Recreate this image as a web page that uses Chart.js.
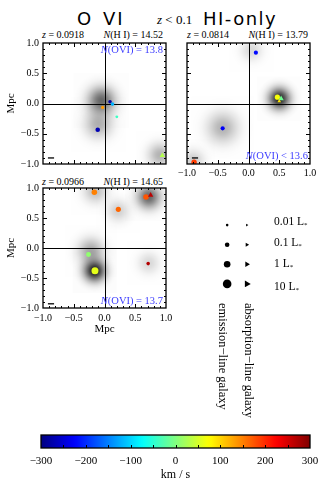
<!DOCTYPE html>
<html>
<head>
<meta charset="utf-8">
<title>O VI z &lt; 0.1 HI-only</title>
<script src="https://cdn.jsdelivr.net/npm/chart.js@4.4.1/dist/chart.umd.min.js"></script>
<style>
  body { margin: 0; width: 321px; height: 480px; position: relative; background: #fff; overflow: hidden;
         font-family: "Liberation Serif", "DejaVu Serif", serif; color: #000; }
  canvas { position: absolute; }
  .txt { position: absolute; white-space: nowrap; line-height: 1; }
  .big { font-family: "DejaVu Sans", sans-serif; font-size: 18px; }
  .sub { font-size: 10px; }
  .blue { color: #3c3cff; font-size: 10.5px; }
  .leg { font-size: 11.5px; }
  .leg sub { font-size: 7px; vertical-align: -2px; }
  .vert { writing-mode: vertical-rl; font-size: 12.5px; line-height: 13px; }
</style>
</head>
<body>
<div class="txt big" style="left:77px;top:10px;letter-spacing:2px;word-spacing:2px">O VI</div>
<div class="txt" style="left:157px;top:13px;font-size:13px"><i>z</i> &lt; 0.1</div>
<div class="txt big" style="left:203px;top:10px;letter-spacing:1.5px">HI-only</div>

<div class="txt sub" style="left:42px;top:30px"><i>z</i> = 0.0918</div>
<div class="txt sub" style="right:158px;top:30px"><i>N</i>(H I) = 14.52</div>
<div class="txt sub" style="left:187px;top:30px"><i>z</i> = 0.0814</div>
<div class="txt sub" style="right:13px;top:30px"><i>N</i>(H I) = 13.79</div>
<div class="txt sub" style="left:42px;top:177px"><i>z</i> = 0.0966</div>
<div class="txt sub" style="right:158px;top:177px"><i>N</i>(H I) = 14.65</div>

<canvas id="p1" width="176" height="142" style="left:0;top:30px"></canvas>
<canvas id="p2" width="146" height="150" style="left:174px;top:30px"></canvas>
<canvas id="p3" width="176" height="164" style="left:0;top:176px"></canvas>
<canvas id="lg" width="48" height="87" style="left:213px;top:211px"></canvas>
<canvas id="cb" width="296" height="64" style="left:24px;top:420px"></canvas>

<div class="txt blue" style="right:158px;top:45px"><i>N</i>(OVI) = 13.8</div>
<div class="txt blue" style="right:13px;top:151px"><i>N</i>(OVI) &lt; 13.6</div>
<div class="txt blue" style="right:158px;top:296px"><i>N</i>(OVI) = 13.7</div>

<div class="txt leg" style="left:274px;top:216px">0.01 L<sub>*</sub></div>
<div class="txt leg" style="left:274px;top:237px">0.1 L<sub>*</sub></div>
<div class="txt leg" style="left:274px;top:258px">1 L<sub>*</sub></div>
<div class="txt leg" style="left:274px;top:281px">10 L<sub>*</sub></div>
<div class="txt vert" style="left:216px;top:303px">emission−line galaxy</div>
<div class="txt vert" style="left:242px;top:303px">absorption−line galaxy</div>

<script>
// velocity colour scale, km/s
const velMin = -300, velMax = 300;
const cbTicks = [-300, -200, -100, 0, 100, 200, 300];
const mpcTicks = [-1, -0.5, 0, 0.5, 1];

// legend luminosities (L*)
const legendLum = [0.01, 0.1, 1, 10];

// short black bar in the lower left corner
const barX = [-0.92, -0.82];

// panel 1: z = 0.0918
const p1X = [0.09, 0.13, -0.03, 0.2, -0.11, 0.94];
const p1Y = [0.03, -0.01, -0.065, -0.22, -0.435, -0.86];
const p1Vel = [-280, -120, 135, -40, -270, 30];
const p1Lum = [0.03, 0.03, 0.02, 0.013, 0.1, 1];
const p1Kind = ['em', 'em', 'em', 'em', 'em', 'abs'];
const p1BlobX = [-0.05, -0.1, 0.9];
const p1BlobY = [0.05, -0.35, -0.85];
const p1BlobDepth = [0.6, 0.3, 0.3];
const p1BlobWidth = [0.15, 0.15, 0.13];

// panel 2: z = 0.0814
const p2X = [0.12, 0.47, 0.53, 0.5, -0.42, -0.885];
const p2Y = [0.84, 0.105, 0.08, 0.04, -0.41, -0.97];
const p2Vel = [-220, 70, -10, 90, -230, 190];
const p2Lum = [0.06, 0.2, 1, 0.06, 0.06, 0.25];
const p2Kind = ['em', 'em', 'abs', 'abs', 'em', 'em'];
const p2BlobX = [0.5, -0.42, 0.05, -0.9];
const p2BlobY = [0.08, -0.4, 0.88, -0.95];
const p2BlobDepth = [0.85, 0.3, 0.15, 0.2];
const p2BlobWidth = [0.12, 0.17, 0.12, 0.12];

// panel 3: z = 0.0966
const p3X = [-0.165, 0.675, 0.75, 0.225, -0.26, -0.155, 0.71];
const p3Y = [0.93, 0.85, 0.88, 0.645, -0.11, -0.38, -0.26];
const p3Vel = [150, 175, 265, 165, 10, 60, 270];
const p3Lum = [0.3, 0.3, 1, 0.2, 0.15, 1.6, 0.03];
const p3Kind = ['em', 'em', 'abs', 'em', 'em', 'em', 'em'];
const p3BlobX = [-0.16, -0.22, 0.72, -0.15, 0.22, 0.72];
const p3BlobY = [-0.38, -0.05, 0.85, 0.95, 0.62, -0.25];
const p3BlobDepth = [0.9, 0.35, 0.6, 0.25, 0.18, 0.15];
const p3BlobWidth = [0.12, 0.14, 0.13, 0.13, 0.12, 0.12];

const serif = '"Liberation Serif", "DejaVu Serif", serif';

function jet(t) {
    const c = v => Math.round(255 * Math.min(1, Math.max(0, v)));
    return 'rgb(' + c(1.5 - Math.abs(4 * t - 3)) + ',' + c(1.5 - Math.abs(4 * t - 2)) + ',' + c(1.5 - Math.abs(4 * t - 1)) + ')';
}
function velColor(v) { return jet((v - velMin) / (velMax - velMin)); }
function dotR(lum) { return Math.max(1.1, 3.3 + Math.log10(lum)); }
function triR(lum) { return Math.max(1.4, 3.1 + 0.8 * Math.log10(lum)); }
function fmtMpc(v) { return (v < 0 ? '\u2212' : '') + Math.abs(v).toFixed(1); }
function fixAxis(size) {
    return s => {
        if (s.isHorizontal()) s.height = size; else s.width = size;
        s.paddingLeft = s.paddingRight = s.paddingTop = s.paddingBottom = 0;
    };
}
function blobList(xs, ys, depth, width) {
    return xs.map((x, i) => ({ x: x, y: ys[i], d: depth[i], w: width[i] }));
}

// grey halos, cross through the sight line, inner ticks and frame
const panelDecor = {
    id: 'panelDecor',
    beforeDatasetsDraw(chart, args, opts) {
        const { ctx, chartArea: a } = chart;
        const xs = chart.scales.x, ys = chart.scales.y;
        const unit = xs.getPixelForValue(1) - xs.getPixelForValue(0);
        ctx.save();
        ctx.beginPath();
        ctx.rect(a.left, a.top, a.width, a.height);
        ctx.clip();
        opts.blobs.forEach(b => {
            const cx = xs.getPixelForValue(b.x), cy = ys.getPixelForValue(b.y);
            const R = 3 * b.w * unit;
            const g = ctx.createRadialGradient(cx, cy, 0, cx, cy, R);
            for (let i = 0; i <= 12; i++) {
                const f = i / 12;
                g.addColorStop(f, 'rgba(0,0,0,' + (b.d * Math.exp(-4.5 * f * f)).toFixed(3) + ')');
            }
            ctx.fillStyle = g;
            ctx.fillRect(cx - R, cy - R, 2 * R, 2 * R);
        });
        ctx.strokeStyle = '#000';
        ctx.lineWidth = 1;
        const x0 = Math.round(xs.getPixelForValue(0)) + 0.5;
        const y0 = Math.round(ys.getPixelForValue(0)) + 0.5;
        ctx.beginPath();
        ctx.moveTo(x0, a.top); ctx.lineTo(x0, a.bottom);
        ctx.moveTo(a.left, y0); ctx.lineTo(a.right, y0);
        ctx.stroke();
        ctx.restore();
    },
    afterDatasetsDraw(chart) {
        const { ctx, chartArea: a } = chart;
        const xs = chart.scales.x, ys = chart.scales.y;
        ctx.save();
        ctx.strokeStyle = '#000';
        ctx.lineWidth = 1;
        ctx.beginPath();
        for (let i = -9; i <= 9; i++) {
            const len = i % 5 === 0 ? 4 : 2;
            const px = Math.round(xs.getPixelForValue(i / 10)) + 0.5;
            const py = Math.round(ys.getPixelForValue(i / 10)) + 0.5;
            ctx.moveTo(px, a.top); ctx.lineTo(px, a.top + len);
            ctx.moveTo(px, a.bottom); ctx.lineTo(px, a.bottom - len);
            ctx.moveTo(a.left, py); ctx.lineTo(a.left + len, py);
            ctx.moveTo(a.right, py); ctx.lineTo(a.right - len, py);
        }
        ctx.stroke();
        ctx.lineWidth = 1.3;
        ctx.strokeRect(a.left, a.top, a.width, a.height);
        ctx.restore();
    }
};

const panels = [
    { id: 'p1', x: p1X, y: p1Y, vel: p1Vel, lum: p1Lum, kind: p1Kind, barY: -0.9,
      blobs: blobList(p1BlobX, p1BlobY, p1BlobDepth, p1BlobWidth),
      pad: { top: 13, right: 10, bottom: 8, left: 0 }, showX: false, xTitle: false, showY: true, xH: 0 },
    { id: 'p2', x: p2X, y: p2Y, vel: p2Vel, lum: p2Lum, kind: p2Kind, barY: -0.9,
      blobs: blobList(p2BlobX, p2BlobY, p2BlobDepth, p2BlobWidth),
      pad: { top: 13, right: 10, bottom: 0, left: 13 }, showX: true, xTitle: false, showY: false, xH: 16, xPad: 3 },
    { id: 'p3', x: p3X, y: p3Y, vel: p3Vel, lum: p3Lum, kind: p3Kind, barY: -0.93,
      blobs: blobList(p3BlobX, p3BlobY, p3BlobDepth, p3BlobWidth),
      pad: { top: 12, right: 10, bottom: 0, left: 0 }, showX: true, xTitle: true, showY: true, xH: 32, xPad: 4 }
];

panels.forEach(p => {
    new Chart(document.getElementById(p.id), {
        type: 'scatter',
        data: {
            datasets: [
                {
                    data: p.x.map((v, i) => ({ x: v, y: p.y[i] })),
                    pointStyle: p.kind.map(k => k === 'abs' ? 'triangle' : 'circle'),
                    pointRadius: p.kind.map((k, i) => k === 'abs' ? triR(p.lum[i]) : dotR(p.lum[i])),
                    pointBackgroundColor: p.vel.map(velColor),
                    pointBorderWidth: 0
                },
                {
                    type: 'line',
                    data: barX.map(v => ({ x: v, y: p.barY })),
                    borderColor: '#000',
                    borderWidth: 1.3,
                    pointRadius: 0
                }
            ]
        },
        options: {
            responsive: false,
            animation: false,
            devicePixelRatio: 1,
            layout: { padding: p.pad },
            plugins: {
                legend: { display: false },
                tooltip: { enabled: false },
                panelDecor: { blobs: p.blobs }
            },
            scales: {
                x: {
                    type: 'linear', min: -1, max: 1, display: p.showX,
                    grid: { display: false, drawTicks: false }, border: { display: false },
                    afterBuildTicks: s => { s.ticks = mpcTicks.map(v => ({ value: v })); },
                    afterFit: p.showX ? fixAxis(p.xH) : undefined,
                    ticks: { padding: p.xPad || 4, color: '#000', maxRotation: 0, autoSkip: false,
                             font: { family: serif, size: 10 }, callback: fmtMpc },
                    title: { display: p.xTitle, text: 'Mpc', color: '#000',
                             font: { family: serif, size: 11 }, padding: { top: 0, bottom: 4 } }
                },
                y: {
                    type: 'linear', min: -1, max: 1, display: p.showY,
                    grid: { display: false, drawTicks: false }, border: { display: false },
                    afterBuildTicks: s => { s.ticks = mpcTicks.map(v => ({ value: v })); },
                    afterFit: p.showY ? fixAxis(43) : undefined,
                    ticks: { padding: 4, color: '#000', autoSkip: false,
                             font: { family: serif, size: 10 }, callback: fmtMpc },
                    title: { display: true, text: 'Mpc', color: '#000',
                             font: { family: serif, size: 11 }, padding: { top: 5, bottom: 0 } }
                }
            }
        },
        plugins: [panelDecor]
    });
});

// size legend: filled circles (emission) and triangles (absorption)
new Chart(document.getElementById('lg'), {
    type: 'scatter',
    data: {
        datasets: [
            {
                data: legendLum.map((l, i) => ({ x: 0, y: i })),
                pointStyle: 'circle',
                pointRadius: legendLum.map(dotR),
                pointBackgroundColor: '#000',
                pointBorderWidth: 0
            },
            {
                data: legendLum.map((l, i) => ({ x: 1, y: i })),
                pointStyle: 'triangle',
                pointRotation: 90,
                pointRadius: legendLum.map(triR),
                pointBackgroundColor: '#000',
                pointBorderWidth: 0
            }
        ]
    },
    options: {
        responsive: false,
        animation: false,
        devicePixelRatio: 1,
        layout: { padding: 0 },
        plugins: { legend: { display: false }, tooltip: { enabled: false } },
        scales: {
            x: { type: 'linear', display: false, min: -0.5, max: 1.5 },
            y: { type: 'linear', display: false, min: -0.5, max: 3.5, reverse: true }
        }
    }
});

// colour bar
const barFrame = {
    id: 'barFrame',
    afterDatasetsDraw(chart) {
        const { ctx, chartArea: a } = chart;
        const xs = chart.scales.x;
        ctx.save();
        ctx.strokeStyle = '#000';
        ctx.lineWidth = 1;
        ctx.beginPath();
        for (let v = velMin + 50; v < velMax; v += 50) {
            const px = Math.round(xs.getPixelForValue(v)) + 0.5;
            ctx.moveTo(px, a.bottom); ctx.lineTo(px, a.bottom - 3);
        }
        ctx.stroke();
        ctx.lineWidth = 1.3;
        ctx.strokeRect(a.left, a.top, a.width, a.height);
        ctx.restore();
    }
};

new Chart(document.getElementById('cb'), {
    type: 'bar',
    data: {
        labels: ['v'],
        datasets: [{
            data: [[velMin, velMax]],
            backgroundColor: ctx => {
                const chart = ctx.chart;
                if (!chart.chartArea) return 'transparent';
                const xs = chart.scales.x;
                const g = chart.ctx.createLinearGradient(xs.getPixelForValue(velMin), 0, xs.getPixelForValue(velMax), 0);
                for (let i = 0; i <= 60; i++) g.addColorStop(i / 60, jet(i / 60));
                return g;
            },
            borderWidth: 0,
            barPercentage: 1,
            categoryPercentage: 1
        }]
    },
    options: {
        indexAxis: 'y',
        responsive: false,
        animation: false,
        devicePixelRatio: 1,
        layout: { padding: { left: 17, top: 15, right: 10, bottom: 0 } },
        plugins: { legend: { display: false }, tooltip: { enabled: false } },
        scales: {
            x: {
                type: 'linear', min: velMin, max: velMax,
                grid: { display: false, drawTicks: false }, border: { display: false },
                afterBuildTicks: s => { s.ticks = cbTicks.map(v => ({ value: v })); },
                afterFit: fixAxis(36),
                ticks: { padding: 7, color: '#000', maxRotation: 0, autoSkip: false,
                         font: { family: serif, size: 11 },
                         callback: v => (v < 0 ? '\u2212' : '') + Math.abs(v) },
                title: { display: true, text: 'km / s', color: '#000',
                         font: { family: serif, size: 12 }, padding: { top: 0, bottom: 2 } }
            },
            y: { display: false }
        }
    },
    plugins: [barFrame]
});
</script>
</body>
</html>
